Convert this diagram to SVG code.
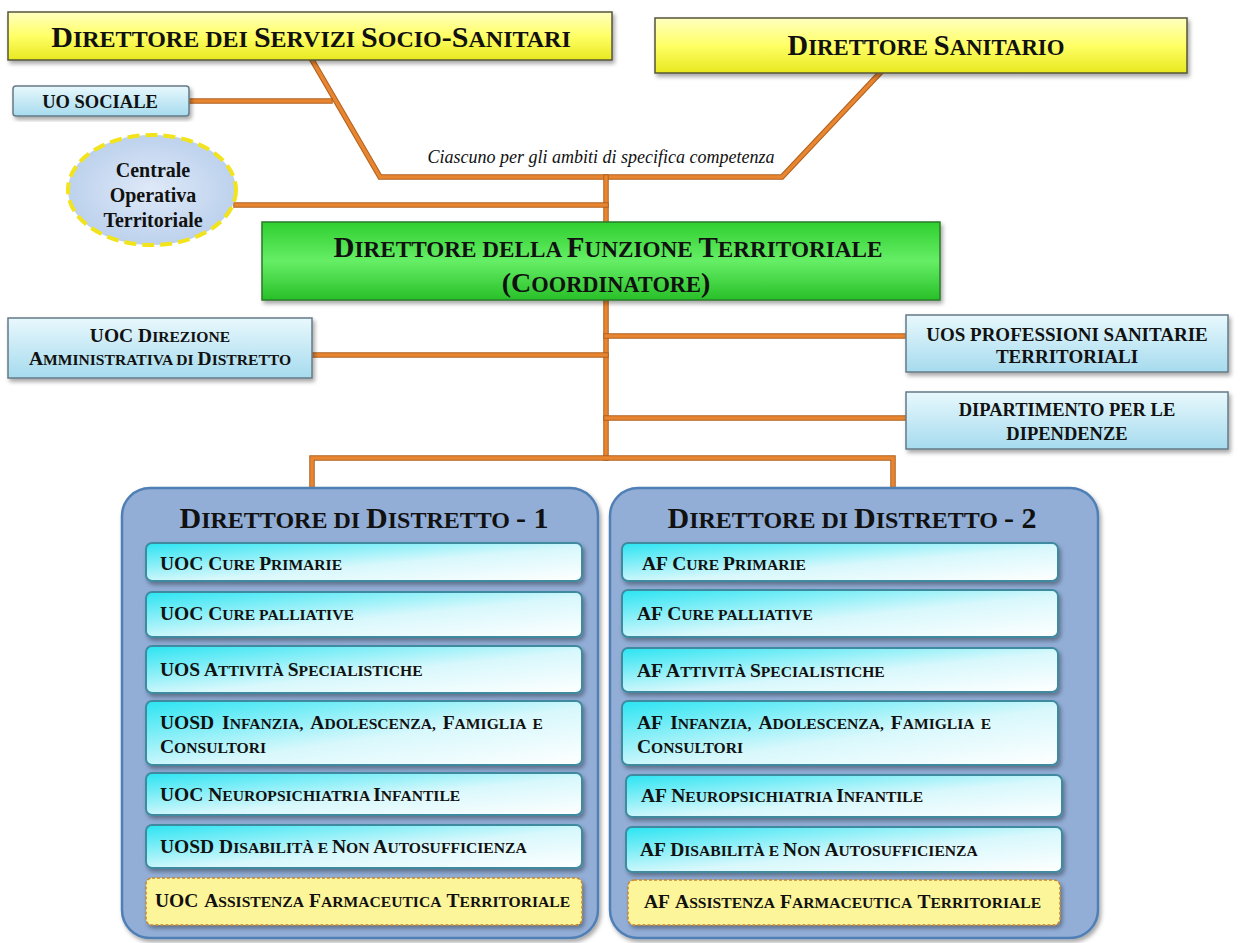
<svg xmlns="http://www.w3.org/2000/svg" width="1242" height="943" viewBox="0 0 1242 943">
<style>
.t{font-family:"Liberation Serif","Times New Roman",serif;font-weight:bold;fill:#111;}
.s{font-size:0.8em;}
.hd{font-size:29px;}
.it{font-size:19.5px;}
.lb{font-size:18.5px;}
.con{stroke:#e88530;stroke-width:3.5;fill:none;stroke-linecap:square;}
.cono{stroke:#b0601c;stroke-width:5.5;fill:none;stroke-linecap:square;}
.yel{fill:url(#gY);stroke:#55553a;stroke-width:1.5;filter:url(#sh);}
.blu{fill:url(#gB);stroke:#667a86;stroke-width:1.5;filter:url(#sh);}
.itm{fill:url(#gC);stroke:#3f8aa0;stroke-width:2;filter:url(#sh);}
.far{fill:#fdf59a;stroke:#c9862a;stroke-width:1.5;stroke-dasharray:3 2;filter:url(#sh);}
.pan{fill:#92aed7;stroke:#4f7fb5;stroke-width:2.5;filter:url(#sh);}
</style>
<defs>
<filter id="sh" x="-5%" y="-10%" width="110%" height="130%"><feDropShadow dx="2" dy="3" stdDeviation="2" flood-color="#000" flood-opacity="0.35"/></filter>
<linearGradient id="gY" x1="0" y1="0" x2="0" y2="1"><stop offset="0" stop-color="#ffffc0"/><stop offset="0.5" stop-color="#ffff66"/><stop offset="1" stop-color="#e8e820"/></linearGradient>
<linearGradient id="gB" x1="0" y1="0" x2="0" y2="1"><stop offset="0" stop-color="#e8f8fd"/><stop offset="1" stop-color="#a6dbee"/></linearGradient>
<linearGradient id="gG" x1="0" y1="0" x2="0" y2="1"><stop offset="0" stop-color="#2fcf2f"/><stop offset="0.5" stop-color="#66ee66"/><stop offset="1" stop-color="#28c028"/></linearGradient>
<linearGradient id="gC" x1="0" y1="0" x2="1" y2="1"><stop offset="0" stop-color="#2ae4f2"/><stop offset="0.55" stop-color="#d8f8fc"/><stop offset="1" stop-color="#ffffff"/></linearGradient>
<radialGradient id="gE" cx="0.5" cy="0.5" r="0.6"><stop offset="0" stop-color="#dfe9f8"/><stop offset="1" stop-color="#b6cdeb"/></radialGradient>
</defs>
<rect width="1242" height="943" fill="#ffffff"/>

<g id="connectors">
<polyline class="cono" points="312,60 380,177 782,177 880,73"/>
<polyline class="con" points="312,60 380,177 782,177 880,73"/>
<line class="cono" x1="190" y1="101" x2="330" y2="101"/><line class="con" x1="190" y1="101" x2="330" y2="101"/>
<line class="cono" x1="606" y1="177" x2="606" y2="222"/><line class="con" x1="606" y1="177" x2="606" y2="222"/>
<line class="cono" x1="236" y1="205" x2="606" y2="205"/><line class="con" x1="236" y1="205" x2="606" y2="205"/>
<line class="cono" x1="606" y1="300" x2="606" y2="458"/><line class="con" x1="606" y1="300" x2="606" y2="458"/>
<line class="cono" x1="312" y1="355" x2="606" y2="355"/><line class="con" x1="312" y1="355" x2="606" y2="355"/>
<line class="cono" x1="606" y1="336" x2="906" y2="336"/><line class="con" x1="606" y1="336" x2="906" y2="336"/>
<line class="cono" x1="606" y1="418" x2="906" y2="418"/><line class="con" x1="606" y1="418" x2="906" y2="418"/>
<polyline class="cono" points="312,490 312,458 893,458 893,490"/>
<polyline class="con" points="312,490 312,458 893,458 893,490"/>
<text class="t" x="601" y="163" text-anchor="middle" style="font-weight:normal;font-style:italic;font-size:18px;">Ciascuno per gli ambiti di specifica competenza</text>
</g>

<g id="dir-socio">
<rect class="yel" x="8" y="12" width="604" height="48"/>
<text class="t" x="311" y="47" text-anchor="middle" style="font-size:30px">D<tspan class="s">IRETTORE DEI </tspan>S<tspan class="s">ERVIZI </tspan>S<tspan class="s">OCIO</tspan>-S<tspan class="s">ANITARI</tspan></text>
</g>
<g id="dir-sanitario">
<rect class="yel" x="655" y="18" width="532" height="55"/>
<text class="t" x="926" y="55" text-anchor="middle" style="font-size:28.5px">D<tspan class="s">IRETTORE </tspan>S<tspan class="s">ANITARIO</tspan></text>
</g>
<g id="uo-sociale">
<rect class="blu" x="13" y="86" width="176" height="30" rx="3"/>
<text class="t lb" x="100" y="108" text-anchor="middle">UO SOCIALE</text>
</g>
<g id="cot">
<ellipse cx="152" cy="190" rx="84" ry="55" fill="url(#gE)" stroke="#f2e41c" stroke-width="4" stroke-dasharray="12 6"/>
<text class="t" x="153" y="177" text-anchor="middle" style="font-size:20px">Centrale</text>
<text class="t" x="153" y="202" text-anchor="middle" style="font-size:20px">Operativa</text>
<text class="t" x="153" y="227" text-anchor="middle" style="font-size:20px">Territoriale</text>
</g>
<g id="dir-funzione">
<rect x="262" y="222" width="678" height="78" fill="url(#gG)" stroke="#2a7a2a" stroke-width="1.5" filter="url(#sh)"/>
<text class="t" x="608" y="257" text-anchor="middle" style="font-size:29px">D<tspan class="s">IRETTORE DELLA </tspan>F<tspan class="s">UNZIONE </tspan>T<tspan class="s">ERRITORIALE</tspan></text>
<text class="t" x="606" y="292" text-anchor="middle" style="font-size:28px">(C<tspan class="s">OORDINATORE</tspan>)</text>
</g>
<g id="uoc-direzione">
<rect class="blu" x="8" y="318" width="304" height="60"/>
<text class="t" x="160" y="342" text-anchor="middle" style="font-size:19.5px">UOC D<tspan class="s">IREZIONE</tspan></text>
<text class="t" x="160" y="365" text-anchor="middle" style="font-size:19.5px">A<tspan class="s">MMINISTRATIVA  DI </tspan>D<tspan class="s">ISTRETTO</tspan></text>
</g>
<g id="uos-professioni">
<rect class="blu" x="906" y="315" width="322" height="57"/>
<text class="t" x="1067" y="341" text-anchor="middle" style="font-size:19px">UOS PROFESSIONI SANITARIE</text>
<text class="t" x="1067" y="363" text-anchor="middle" style="font-size:19px">TERRITORIALI</text>
</g>
<g id="dipartimento">
<rect class="blu" x="906" y="392" width="322" height="57"/>
<text class="t" x="1067" y="416" text-anchor="middle" style="font-size:18.5px">DIPARTIMENTO PER LE</text>
<text class="t" x="1067" y="440" text-anchor="middle" style="font-size:18.5px">DIPENDENZE</text>
</g>

<g id="distretto-1">
<rect class="pan" x="122" y="488" width="476" height="450" rx="28"/>
<text class="t" x="364" y="528" text-anchor="middle" style="font-size:30px">D<tspan class="s">IRETTORE DI </tspan>D<tspan class="s">ISTRETTO </tspan>- 1</text>
<rect class="itm" x="146" y="543" width="436" height="38" rx="6"/>
<text class="t it" x="160" y="570">UOC C<tspan class="s">URE </tspan>P<tspan class="s">RIMARIE</tspan></text>
<rect class="itm" x="146" y="592" width="436" height="45" rx="6"/>
<text class="t it" x="160" y="620">UOC C<tspan class="s">URE PALLIATIVE</tspan></text>
<rect class="itm" x="146" y="646" width="436" height="47" rx="6"/>
<text class="t it" x="160" y="676">UOS A<tspan class="s">TTIVITÀ </tspan>S<tspan class="s">PECIALISTICHE</tspan></text>
<rect class="itm" x="146" y="701" width="436" height="64" rx="6"/>
<text class="t it" x="160" y="729" word-spacing="3">UOSD I<tspan class="s">NFANZIA, </tspan>A<tspan class="s">DOLESCENZA, </tspan>F<tspan class="s">AMIGLIA E</tspan></text>
<text class="t it" x="160" y="753">C<tspan class="s">ONSULTORI</tspan></text>
<rect class="itm" x="146" y="773" width="436" height="42" rx="6"/>
<text class="t it" x="160" y="801">UOC N<tspan class="s">EUROPSICHIATRIA  </tspan>I<tspan class="s">NFANTILE</tspan></text>
<rect class="itm" x="146" y="825" width="436" height="43" rx="6"/>
<text class="t it" x="160" y="853">UOSD D<tspan class="s">ISABILITÀ E </tspan>N<tspan class="s">ON </tspan>A<tspan class="s">UTOSUFFICIENZA</tspan></text>
<rect class="far" x="146" y="878" width="436" height="47" rx="6"/>
<text class="t it" x="155" y="907" word-spacing="2">UOC A<tspan class="s">SSISTENZA </tspan>F<tspan class="s">ARMACEUTICA </tspan>T<tspan class="s">ERRITORIALE</tspan></text>
</g>

<g id="distretto-2">
<rect class="pan" x="610" y="488" width="488" height="450" rx="28"/>
<text class="t" x="852" y="528" text-anchor="middle" style="font-size:30px">D<tspan class="s">IRETTORE DI </tspan>D<tspan class="s">ISTRETTO </tspan>- 2</text>
<rect class="itm" x="622" y="543" width="436" height="38" rx="6"/>
<text class="t it" x="642" y="570">AF C<tspan class="s">URE </tspan>P<tspan class="s">RIMARIE</tspan></text>
<rect class="itm" x="622" y="590" width="436" height="47" rx="6"/>
<text class="t it" x="637" y="620">AF C<tspan class="s">URE PALLIATIVE</tspan></text>
<rect class="itm" x="622" y="648" width="436" height="44" rx="6"/>
<text class="t it" x="637" y="677">AF A<tspan class="s">TTIVITÀ </tspan>S<tspan class="s">PECIALISTICHE</tspan></text>
<rect class="itm" x="622" y="701" width="436" height="64" rx="6"/>
<text class="t it" x="637" y="729" word-spacing="3">AF I<tspan class="s">NFANZIA, </tspan>A<tspan class="s">DOLESCENZA, </tspan>F<tspan class="s">AMIGLIA E</tspan></text>
<text class="t it" x="637" y="753">C<tspan class="s">ONSULTORI</tspan></text>
<rect class="itm" x="626" y="775" width="436" height="42" rx="6"/>
<text class="t it" x="641" y="802">AF N<tspan class="s">EUROPSICHIATRIA  </tspan>I<tspan class="s">NFANTILE</tspan></text>
<rect class="itm" x="626" y="827" width="436" height="45" rx="6"/>
<text class="t it" x="640" y="856">AF D<tspan class="s">ISABILITÀ E </tspan>N<tspan class="s">ON </tspan>A<tspan class="s">UTOSUFFICIENZA</tspan></text>
<rect class="far" x="628" y="880" width="432" height="45" rx="6"/>
<text class="t it" x="644" y="908" word-spacing="2">AF A<tspan class="s">SSISTENZA </tspan>F<tspan class="s">ARMACEUTICA </tspan>T<tspan class="s">ERRITORIALE</tspan></text>
</g>
</svg>
